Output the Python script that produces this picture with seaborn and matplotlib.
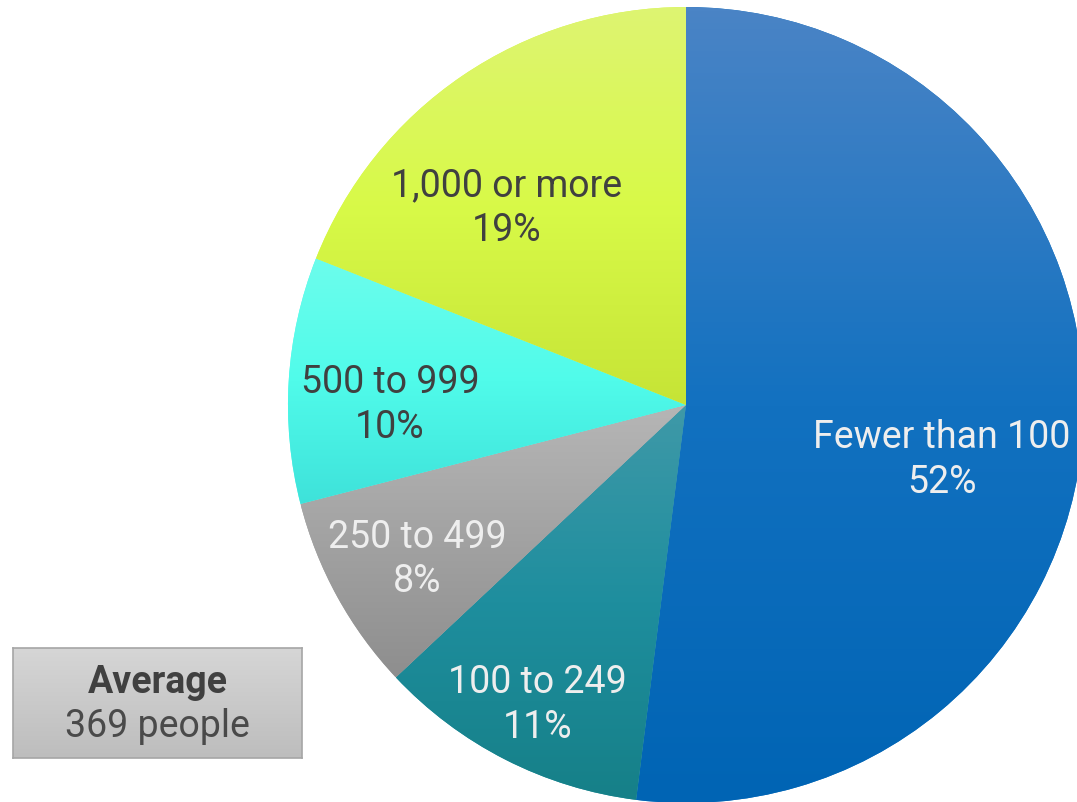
import numpy as np
import matplotlib
matplotlib.use("Agg")
import matplotlib.pyplot as plt
import seaborn as sns
from matplotlib.colors import LinearSegmentedColormap

sns.set_theme(style="white")
plt.rcParams['font.family'] = ['Roboto', 'DejaVu Sans']

# ---- data ----
categories = ["Fewer than 100", "100 to 249", "250 to 499", "500 to 999", "1,000 or more"]
shares = [52, 11, 8, 10, 19]
pct_labels = ["52%", "11%", "8%", "10%", "19%"]
avg_title = "Average"
avg_value = "369 people"

# ---- styles ----
grad_stops = [
    ["#4A84C6", "#1271C0", "#0064B4"],   # blue
    ["#3F99A8", "#1E8E9E", "#168088"],   # teal
    ["#B6B6B6", "#A2A2A2", "#8E8E8E"],   # gray
    ["#6CFDEC", "#50FBEA", "#3EE2DA"],   # cyan
    ["#DEF472", "#D8FA48", "#C6E436"],   # yellow
]
label_colors = ["#EEEEEE", "#EEEEEE", "#EEEEEE", "#404040", "#404040"]
# label positions (fraction of radius, x / y from centre)
label_pos = [(0.643, -0.138), (-0.374, -0.754), (-0.676, -0.389), (-0.744, 0.0), (-0.450, 0.495)]

W, H = 1077, 802
fig = plt.figure(figsize=(W / 100, H / 100), dpi=100)
ax = fig.add_axes([0, 0, 1, 1])
cx, cy, R = 686, 405, 398
ax.set_aspect("equal")
ax.axis("off")

wedges, _ = ax.pie(shares, startangle=90, counterclock=False,
                   colors=[g[1] for g in grad_stops], radius=1.0,
                   wedgeprops=dict(linewidth=0))
ax.set_xlim(-cx / R, (W - cx) / R)
ax.set_ylim((cy - H) / R, cy / R)

grad = np.linspace(0, 1, 256).reshape(-1, 1)
for w, stops in zip(wedges, grad_stops):
    path = w.get_path()
    verts = w.get_transform().transform(path.vertices)
    verts = ax.transData.inverted().transform(verts)
    x0, x1 = verts[:, 0].min(), verts[:, 0].max()
    y0, y1 = verts[:, 1].min(), verts[:, 1].max()
    cmap = LinearSegmentedColormap.from_list("g", stops[::-1])
    im = ax.imshow(grad, extent=[x0, x1, y0, y1], origin="lower", cmap=cmap,
                   aspect="auto", zorder=2, interpolation="bilinear")
    im.set_clip_path(w)

ax.set_xlim(-cx / R, (W - cx) / R)
ax.set_ylim((cy - H) / R, cy / R)

for cat, pct, col, (lx, ly) in zip(categories, pct_labels, label_colors, label_pos):
    ax.text(lx, ly, f"{cat}\n{pct}", ha="center", va="center", color=col,
            fontsize=27, linespacing=1.25, zorder=5)

# average box
bx = fig.add_axes([13 / W, 1 - 758 / H, 289 / W, 110 / H])
bcmap = LinearSegmentedColormap.from_list("b", ["#BDBDBD", "#D6D6D6"])
bx.imshow(grad, extent=[0, 1, 0, 1], origin="lower", cmap=bcmap, aspect="auto")
bx.set_xlim(0, 1)
bx.set_ylim(0, 1)
bx.set_xticks([])
bx.set_yticks([])
for s in bx.spines.values():
    s.set_color("#A6A6A6")
    s.set_linewidth(1.2)
bx.text(0.5, 0.69, avg_title, ha="center", va="center", fontsize=27,
        fontweight="bold", color="#404040")
bx.text(0.5, 0.29, avg_value, ha="center", va="center", fontsize=27,
        color="#4A4A4A")

fig.savefig("out.png", dpi=100)
